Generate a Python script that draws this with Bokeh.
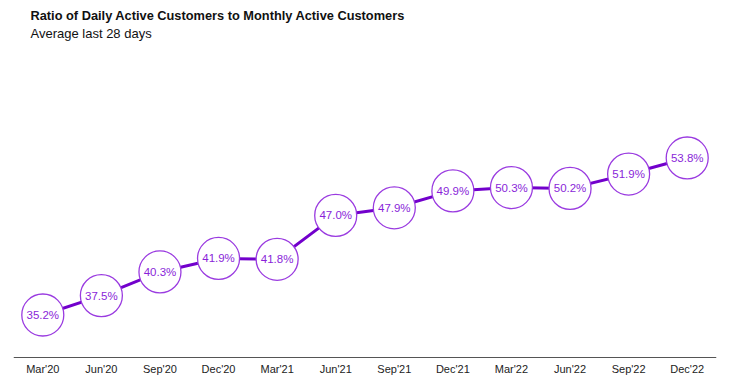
from bokeh.plotting import figure
from bokeh.models import ColumnDataSource, Title, Range1d, Span
from bokeh.embed import file_html
from bokeh.resources import INLINE

quarters = ["Mar'20", "Jun'20", "Sep'20", "Dec'20", "Mar'21", "Jun'21",
            "Sep'21", "Dec'21", "Mar'22", "Jun'22", "Sep'22", "Dec'22"]
ratio = [35.2, 37.5, 40.3, 41.9, 41.8, 47.0, 47.9, 49.9, 50.3, 50.2, 51.9, 53.8]
labels = [f"{v:.1f}%" for v in ratio]

AXIS_Y = 30.164      # baseline of the category axis (data units)
TICK_Y = 28.743      # where category labels sit (data units)

src = ColumnDataSource(dict(x=quarters, y=ratio, lab=labels))
tick_src = ColumnDataSource(dict(x=quarters, y=[TICK_Y] * len(quarters), lab=quarters))

FONT = "Liberation Sans"
p = figure(width=736, height=376, x_range=quarters, y_range=Range1d(27.913, 67.72),
           x_axis_location=None, y_axis_location=None,
           output_backend="svg", toolbar_location=None,
           min_border_left=13, min_border_right=20, min_border_top=40, min_border_bottom=0)
p.title.visible = False
p.add_layout(Title(text="Average last 28 days", text_font=FONT, text_font_size="13px",
                   text_font_style="normal", text_color="#111111", offset=17,
                   standoff=0), "above")
p.add_layout(Title(text="Ratio of Daily Active Customers to Monthly Active Customers",
                   text_font=FONT, text_font_size="12.8px", text_font_style="bold",
                   text_color="#111111", offset=17, standoff=2), "above")
p.add_layout(Title(text=" ", text_font=FONT, text_font_size="2px", standoff=0), "above")

p.add_layout(Span(location=AXIS_Y, dimension="width", line_color="#555555", line_width=1.2))

p.line("x", "y", source=src, line_color="#7200cc", line_width=3)
p.scatter("x", "y", source=src, size=42, fill_color="white", line_color="#9a3be0",
          line_width=1.3)
p.text("x", "y", text="lab", source=src, text_align="center", text_baseline="middle",
       text_font_size="11.5px", text_color="#8a1fd9", text_font={"value": FONT})
p.text("x", "y", text="lab", source=tick_src, text_align="center", text_baseline="middle",
       text_font_size="11px", text_color="#222222", text_font={"value": FONT})

p.grid.visible = False
p.outline_line_color = None

open("out.html", "w").write(file_html(p, INLINE))
